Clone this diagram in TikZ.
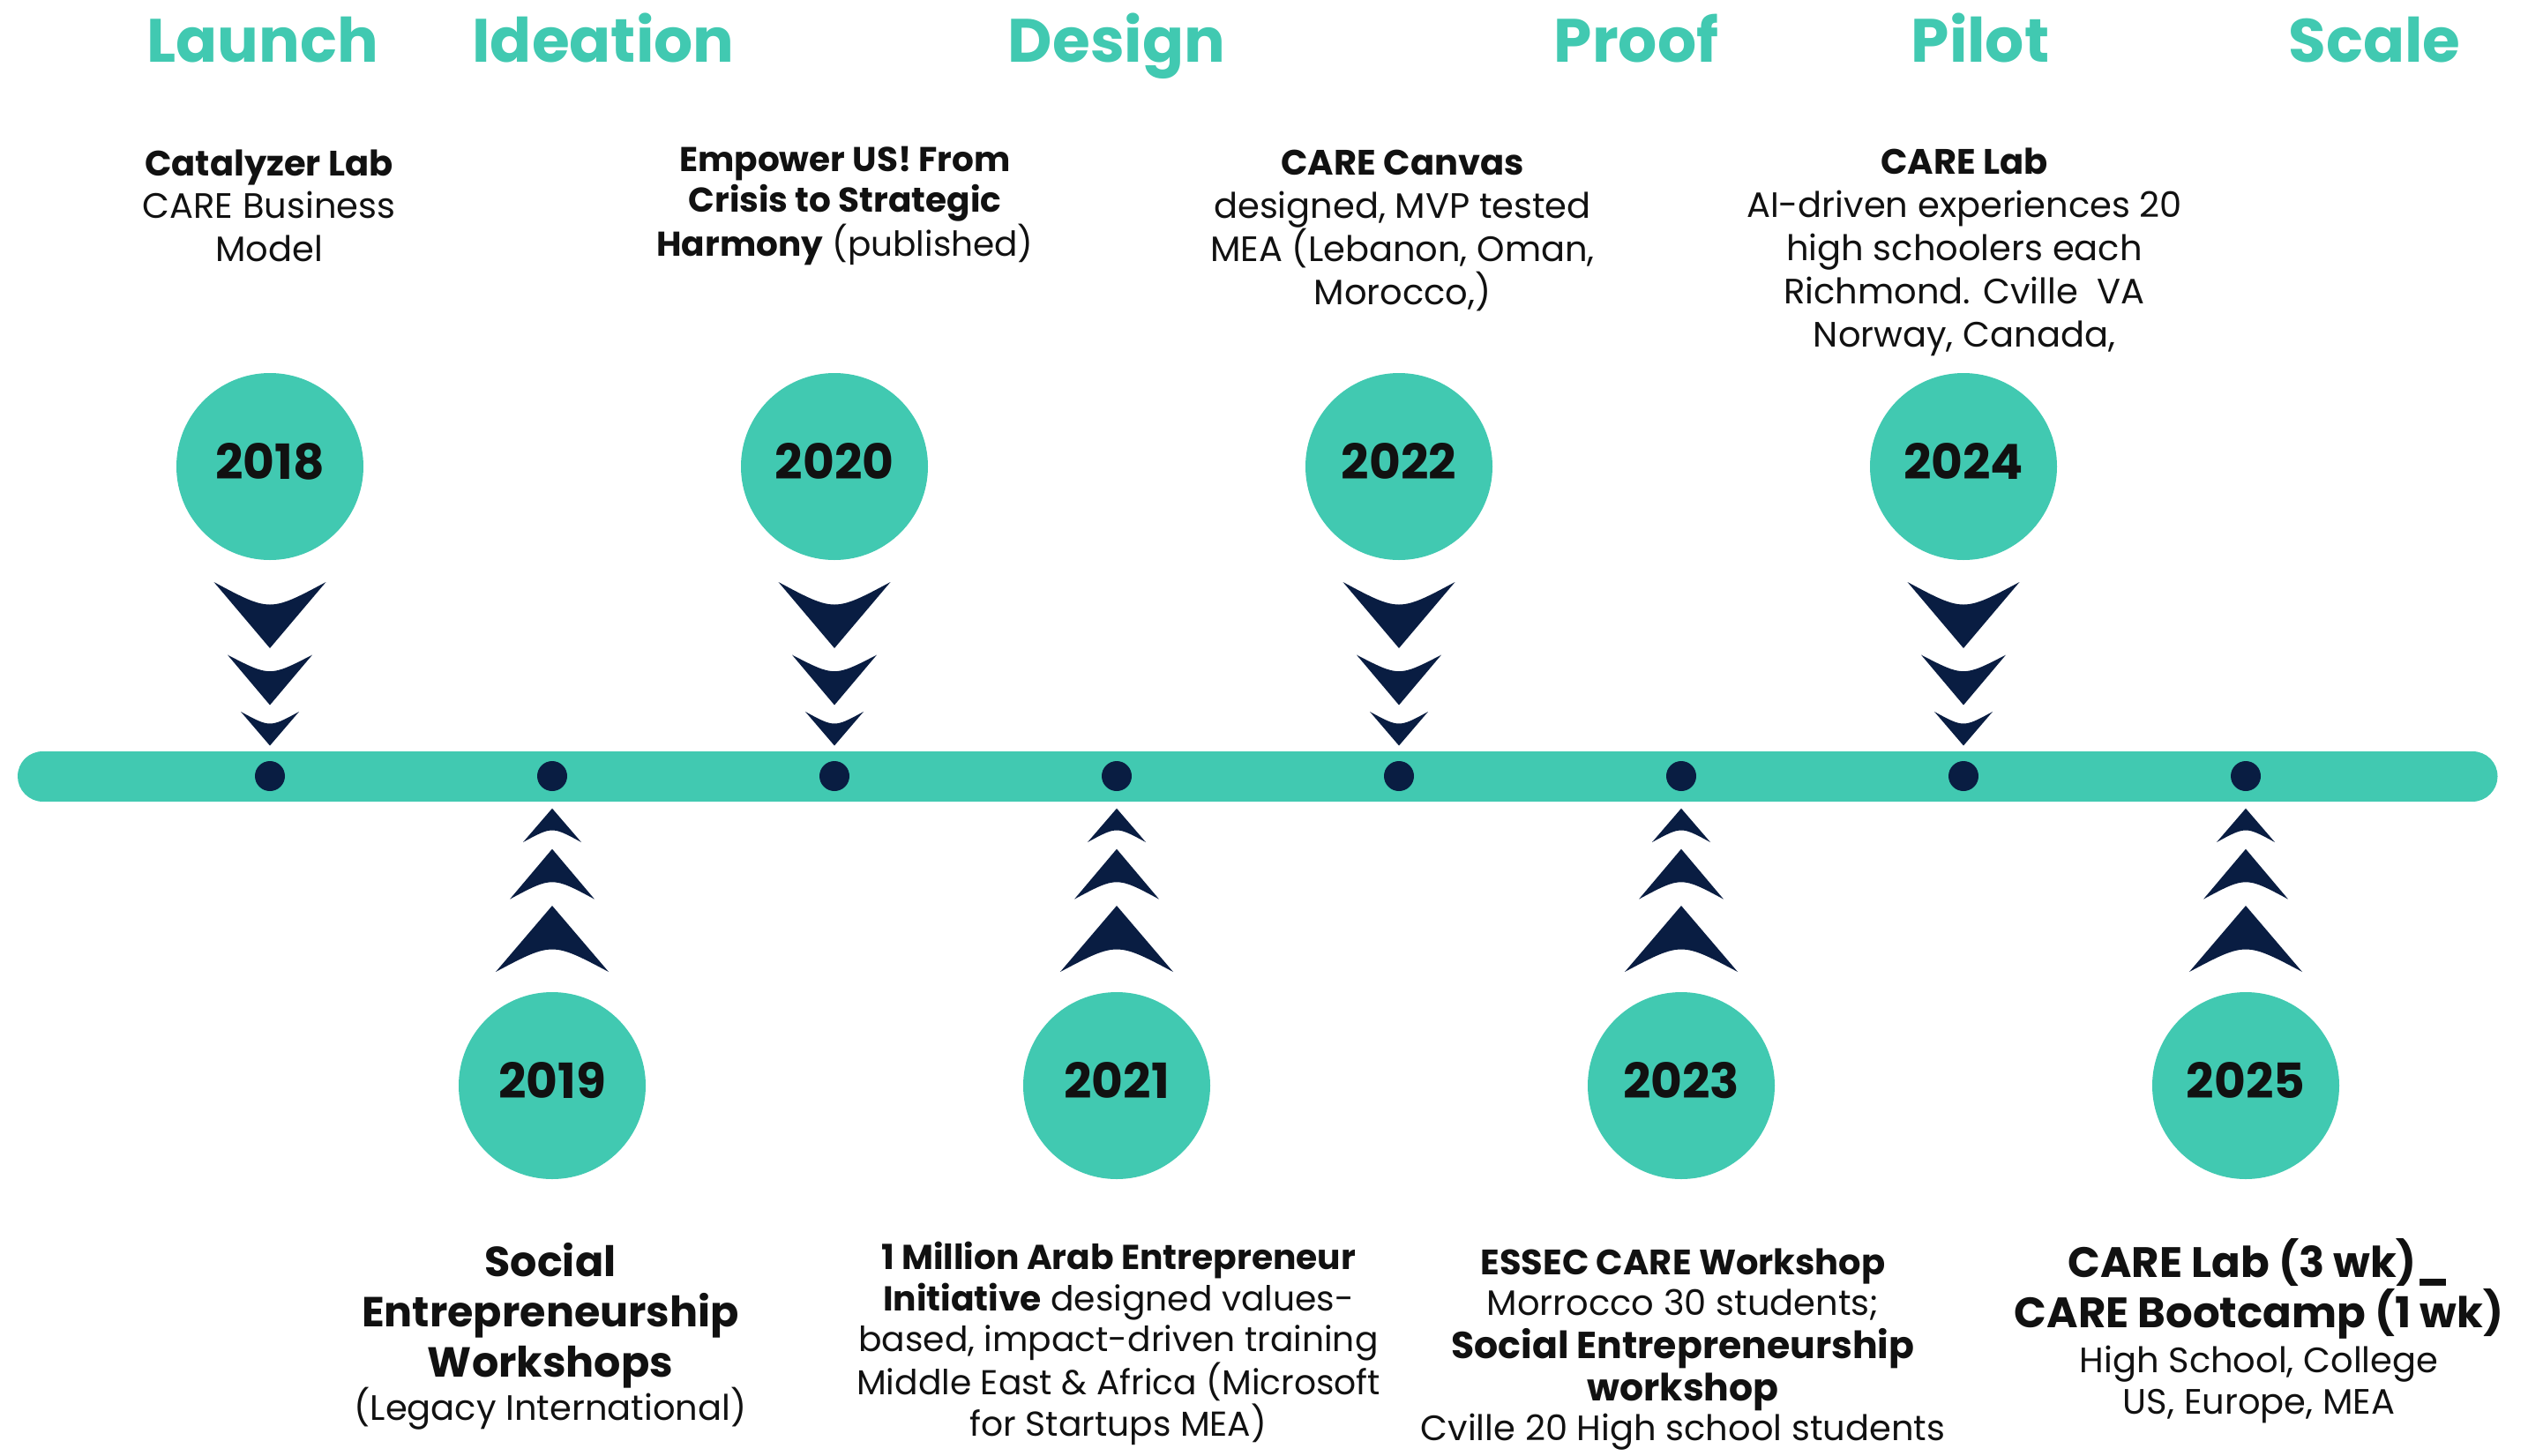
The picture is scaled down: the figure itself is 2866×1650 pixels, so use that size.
\documentclass[tikz,border=0pt]{standalone}
\usepackage{fontspec}
\setmainfont{Poppins}
\definecolor{mint}{RGB}{65,201,177}
\definecolor{navyblue}{RGB}{9,29,66}
\definecolor{ink}{RGB}{17,17,17}
% cx, y of corners, half width, y of middle of curved edge, y of tip
\newcommand\Chev[5]{\fill[navyblue] (#1-#3,#2) .. controls (#1,2*#4-#2) .. (#1+#3,#2) -- (#1,#5) -- cycle;}
\newcommand\regtext{\fontsize{20pt}{24pt}\selectfont\mdseries}
\begin{document}
\begin{tikzpicture}[x=0.5pt,y=-0.5pt,
  phase/.style={font=\fontsize{34.7pt}{40pt}\selectfont\bfseries, text=mint, anchor=base, inner sep=0pt},
  topnote/.style={font=\fontsize{20pt}{24.4pt}\selectfont, text=ink, align=center, anchor=base, inner sep=0pt},
  botnote/.style={font=\fontsize{19.6pt}{23.15pt}\selectfont, text=ink, align=center, anchor=base, inner sep=0pt},
  bignote/.style={font=\fontsize{23.8pt}{28.5pt}\selectfont\bfseries, text=ink, align=center, anchor=base, inner sep=0pt},
  yearc/.style={circle, fill=mint, minimum size=106pt, inner sep=0pt, font=\fontsize{27.5pt}{30pt}\selectfont\bfseries, text=ink, text depth=6pt},
  dot/.style={circle, fill=navyblue, minimum size=17pt, inner sep=0pt},
  bar/.style={draw=mint, line width=28.5pt, line cap=round},
]
\fill[white] (0,0) rectangle (2866,1650);
\useasboundingbox (0,0) rectangle (2866,1650);

% phase headings
\node[phase] (launch) at (298,70.7) {Launch};
\node[phase] (ideation) at (684,70.7) {Ideation};
\node[phase] (design) at (1266,70.7) {Design};
\node[phase] (proof) at (1855,70.7) {Proof};
\node[phase] (pilot) at (2245,70.7) {Pilot};
\node[phase] (scale) at (2692,70.7) {Scale};

% timeline bar
\coordinate (barL) at (48.5,880);
\coordinate (barR) at (2803,880);
\draw[bar] (barL) -- (barR);

% dots
\foreach \x/\n in {306/a,626/b,946/c,1266/d,1586/e,1906/f,2226/g,2546/h}
  \node[dot] (dot\n) at (\x,880) {};

% year circles
\node[yearc] (y2018) at (306,529) {2018};
\node[yearc] (y2020) at (946,529) {2020};
\node[yearc] (y2022) at (1586,529) {2022};
\node[yearc] (y2024) at (2226,529) {2024};
\node[yearc] (y2019) at (626,1231) {2019};
\node[yearc] (y2021) at (1266,1231) {2021};
\node[yearc] (y2023) at (1906,1231) {2023};
\node[yearc] (y2025) at (2546,1231) {2025};

% chevrons
\foreach \x in {306,946,1586,2226}{
  \Chev{\x}{660}{63.5}{677}{735}
  \Chev{\x}{742.6}{48}{755}{799.5}
  \Chev{\x}{807}{33}{816}{845.5}
}
\foreach \x in {626,1266,1906,2546}{
  \Chev{\x}{955}{33}{946}{916.7}
  \Chev{\x}{1019.6}{48}{1006.7}{962.7}
  \Chev{\x}{1102}{64}{1085}{1027}
}

% top notes (anchored at the baseline of their last line)
\node[topnote, font=\fontsize{20pt}{24.25pt}\selectfont] (n2018) at (305,296) {\textbf{Catalyzer Lab}\\CARE Business\\Model};
\node[topnote, font=\fontsize{19.5pt}{23.3pt}\selectfont] (n2020) at (958,290) {\textbf{Empower US! From}\\\textbf{Crisis to Strategic}\\\textbf{Harmony} (published)};
\node[topnote] (n2022) at (1590,345) {\textbf{CARE Canvas}\\designed, MVP tested\\MEA (Lebanon, Oman,\\Morocco,)};
\node[topnote] (n2024) at (2227,393) {\textbf{CARE Lab}\\AI-driven experiences 20\\high schoolers each\\Richmond. Cville\ \ VA\\Norway, Canada,};

% bottom notes (anchored at the baseline of their last line)
\node[bignote] (n2019) at (624,1610) {Social\\Entrepreneurship\\Workshops\\[-4.35pt]{\regtext (Legacy International)}};
\node[botnote] (n2021) at (1268,1628) {\textbf{1 Million Arab Entrepreneur}\\\textbf{Initiative} designed values-\\based, impact-driven training\\Middle East \& Africa (Microsoft\\for Startups MEA)};
\node[botnote, font=\fontsize{20pt}{23.5pt}\selectfont] (n2023) at (1908,1633) {\textbf{ESSEC CARE Workshop}\\[-0.15pt]Morrocco 30 students;\\[0.65pt]{\fontsize{21.3pt}{24pt}\selectfont\bfseries Social Entrepreneurship}\\[0.5pt]{\fontsize{21.3pt}{24pt}\selectfont\bfseries workshop}\\[-1pt]Cville 20 High school students};
\node[bignote, font=\fontsize{24.1pt}{26.5pt}\selectfont\bfseries] (n2025) at (2561,1603) {CARE Lab (3 wk)\_\\CARE Bootcamp (1 wk)\\[-0.65pt]{\regtext High School, College}\\[-3.35pt]{\regtext US, Europe, MEA}};
\end{tikzpicture}
\end{document}
